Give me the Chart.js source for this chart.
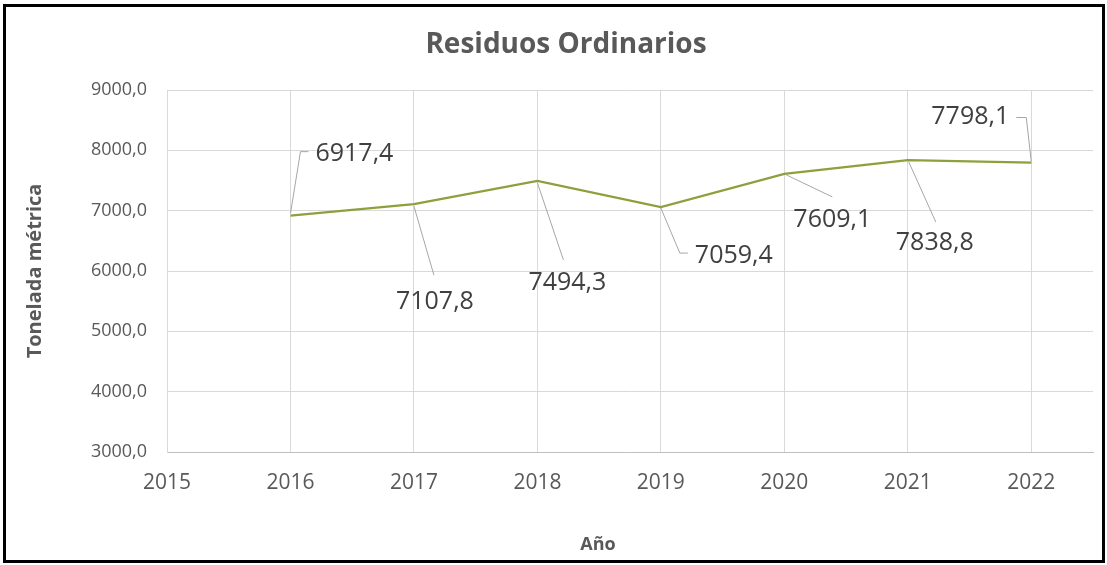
<!DOCTYPE html>
<html>
<head>
<meta charset="utf-8">
<script src="https://cdn.jsdelivr.net/npm/chart.js@4.4.1/dist/chart.umd.min.js"></script>
<style>
  html, body { margin: 0; padding: 0; background: #fff; }
  #c { display: block; }
</style>
</head>
<body>
<canvas id="c" width="1107" height="565"></canvas>
<script>
// ---- data ----
const years = [2016, 2017, 2018, 2019, 2020, 2021, 2022];
const toneladas = [6917.4, 7107.8, 7494.3, 7059.4, 7609.1, 7838.8, 7798.1];
const xTickValues = [2015, 2016, 2017, 2018, 2019, 2020, 2021, 2022];
const yTickValues = [3000, 4000, 5000, 6000, 7000, 8000, 9000];
const chartTitle = 'Residuos Ordinarios';
const yAxisTitle = 'Tonelada métrica';
const xAxisTitle = 'Año';

// ---- label layout (pixel offsets relative to each point) ----
const labelLayout = [
  { path: [[0,-2],[10,-64],[18,-64]], text: [25,-62], align: 'left' },
  { path: [[0,2],[20,71]], text: [21,98], align: 'center' },
  { path: [[0,2],[26,79]], text: [30,102], align: 'center' },
  { path: [[0,1],[19,46],[27,46]], text: [34,49], align: 'left' },
  { path: [[2,1],[48,23]], text: [48,46], align: 'center' },
  { path: [[1,2],[28,62]], text: [27,83], align: 'center' },
  { path: [[0,-1],[-5,-45],[-15,-45]], text: [-22,-46], align: 'right' }
];

const fmt = v => v.toFixed(1).replace('.', ',');
const FONT = '"Open Sans", "Noto Sans", sans-serif';

const decorPlugin = {
  id: 'decor',
  afterDraw(chart) {
    const ctx = chart.ctx;
    const ca = chart.chartArea;
    ctx.save();
    ctx.strokeStyle = '#000';
    ctx.lineWidth = 3;
    ctx.strokeRect(4.5, 5.5, 1099, 556);
    ctx.fillStyle = '#595959';
    ctx.textAlign = 'center';
    ctx.textBaseline = 'middle';
    ctx.font = 'bold 28px ' + FONT;
    ctx.fillText(chartTitle, 566, 45);
    ctx.font = 'bold 18px ' + FONT;
    ctx.fillText(xAxisTitle, 598, 545);
    ctx.save();
    ctx.translate(35, (ca.top + ca.bottom) / 2);
    ctx.rotate(-Math.PI / 2);
    ctx.font = 'bold 20px ' + FONT;
    ctx.fillText(yAxisTitle, 0, 0);
    ctx.restore();

    const meta = chart.getDatasetMeta(0);
    meta.data.forEach((pt, i) => {
      const L = labelLayout[i];
      if (!L) return;
      const px = pt.x, py = pt.y;
      ctx.strokeStyle = '#a6a6a6';
      ctx.lineWidth = 1;
      ctx.beginPath();
      L.path.forEach((p, k) => {
        const X = px + p[0], Y = py + p[1];
        if (k === 0) ctx.moveTo(X, Y); else ctx.lineTo(X, Y);
      });
      ctx.stroke();
      ctx.fillStyle = '#404040';
      ctx.font = '25px ' + FONT;
      ctx.textAlign = L.align;
      ctx.textBaseline = 'middle';
      ctx.fillText(fmt(toneladas[i]), px + L.text[0], py + L.text[1]);
    });
    ctx.restore();
  }
};

new Chart(document.getElementById('c'), {
  type: 'line',
  data: {
    datasets: [{
      data: years.map((y, i) => ({ x: y, y: toneladas[i] })),
      borderColor: '#8ca03c',
      borderWidth: 2.25,
      pointRadius: 0,
      tension: 0,
      fill: false
    }]
  },
  options: {
    responsive: false,
    devicePixelRatio: 1,
    animation: false,
    layout: { padding: { top: 90, left: 0, right: 14, bottom: 0 } },
    plugins: {
      legend: { display: false },
      title: { display: false },
      tooltip: { enabled: false }
    },
    scales: {
      x: {
        type: 'linear',
        min: 2015,
        max: 2022.5,
        afterBuildTicks: s => { s.ticks = xTickValues.map(v => ({ value: v })); },
        afterFit: s => { s.height = 113; },
        grid: { color: '#d9d9d9', drawTicks: false, lineWidth: 1 },
        border: { display: true, color: '#bfbfbf', width: 1 },
        ticks: {
          padding: 18,
          color: '#595959',
          font: { family: FONT, size: 21 },
          callback: v => String(v),
          maxRotation: 0
        }
      },
      y: {
        type: 'linear',
        min: 3000,
        max: 9000,
        afterBuildTicks: s => { s.ticks = yTickValues.map(v => ({ value: v })); },
        afterFit: s => { s.width = 167; },
        grid: { color: '#d9d9d9', drawTicks: false, lineWidth: 1 },
        border: { display: true, color: '#d9d9d9', width: 1 },
        ticks: {
          padding: 20,
          color: '#595959',
          font: { family: FONT, size: 18 },
          callback: v => fmt(v)
        }
      }
    }
  },
  plugins: [decorPlugin]
});
</script>
</body>
</html>
